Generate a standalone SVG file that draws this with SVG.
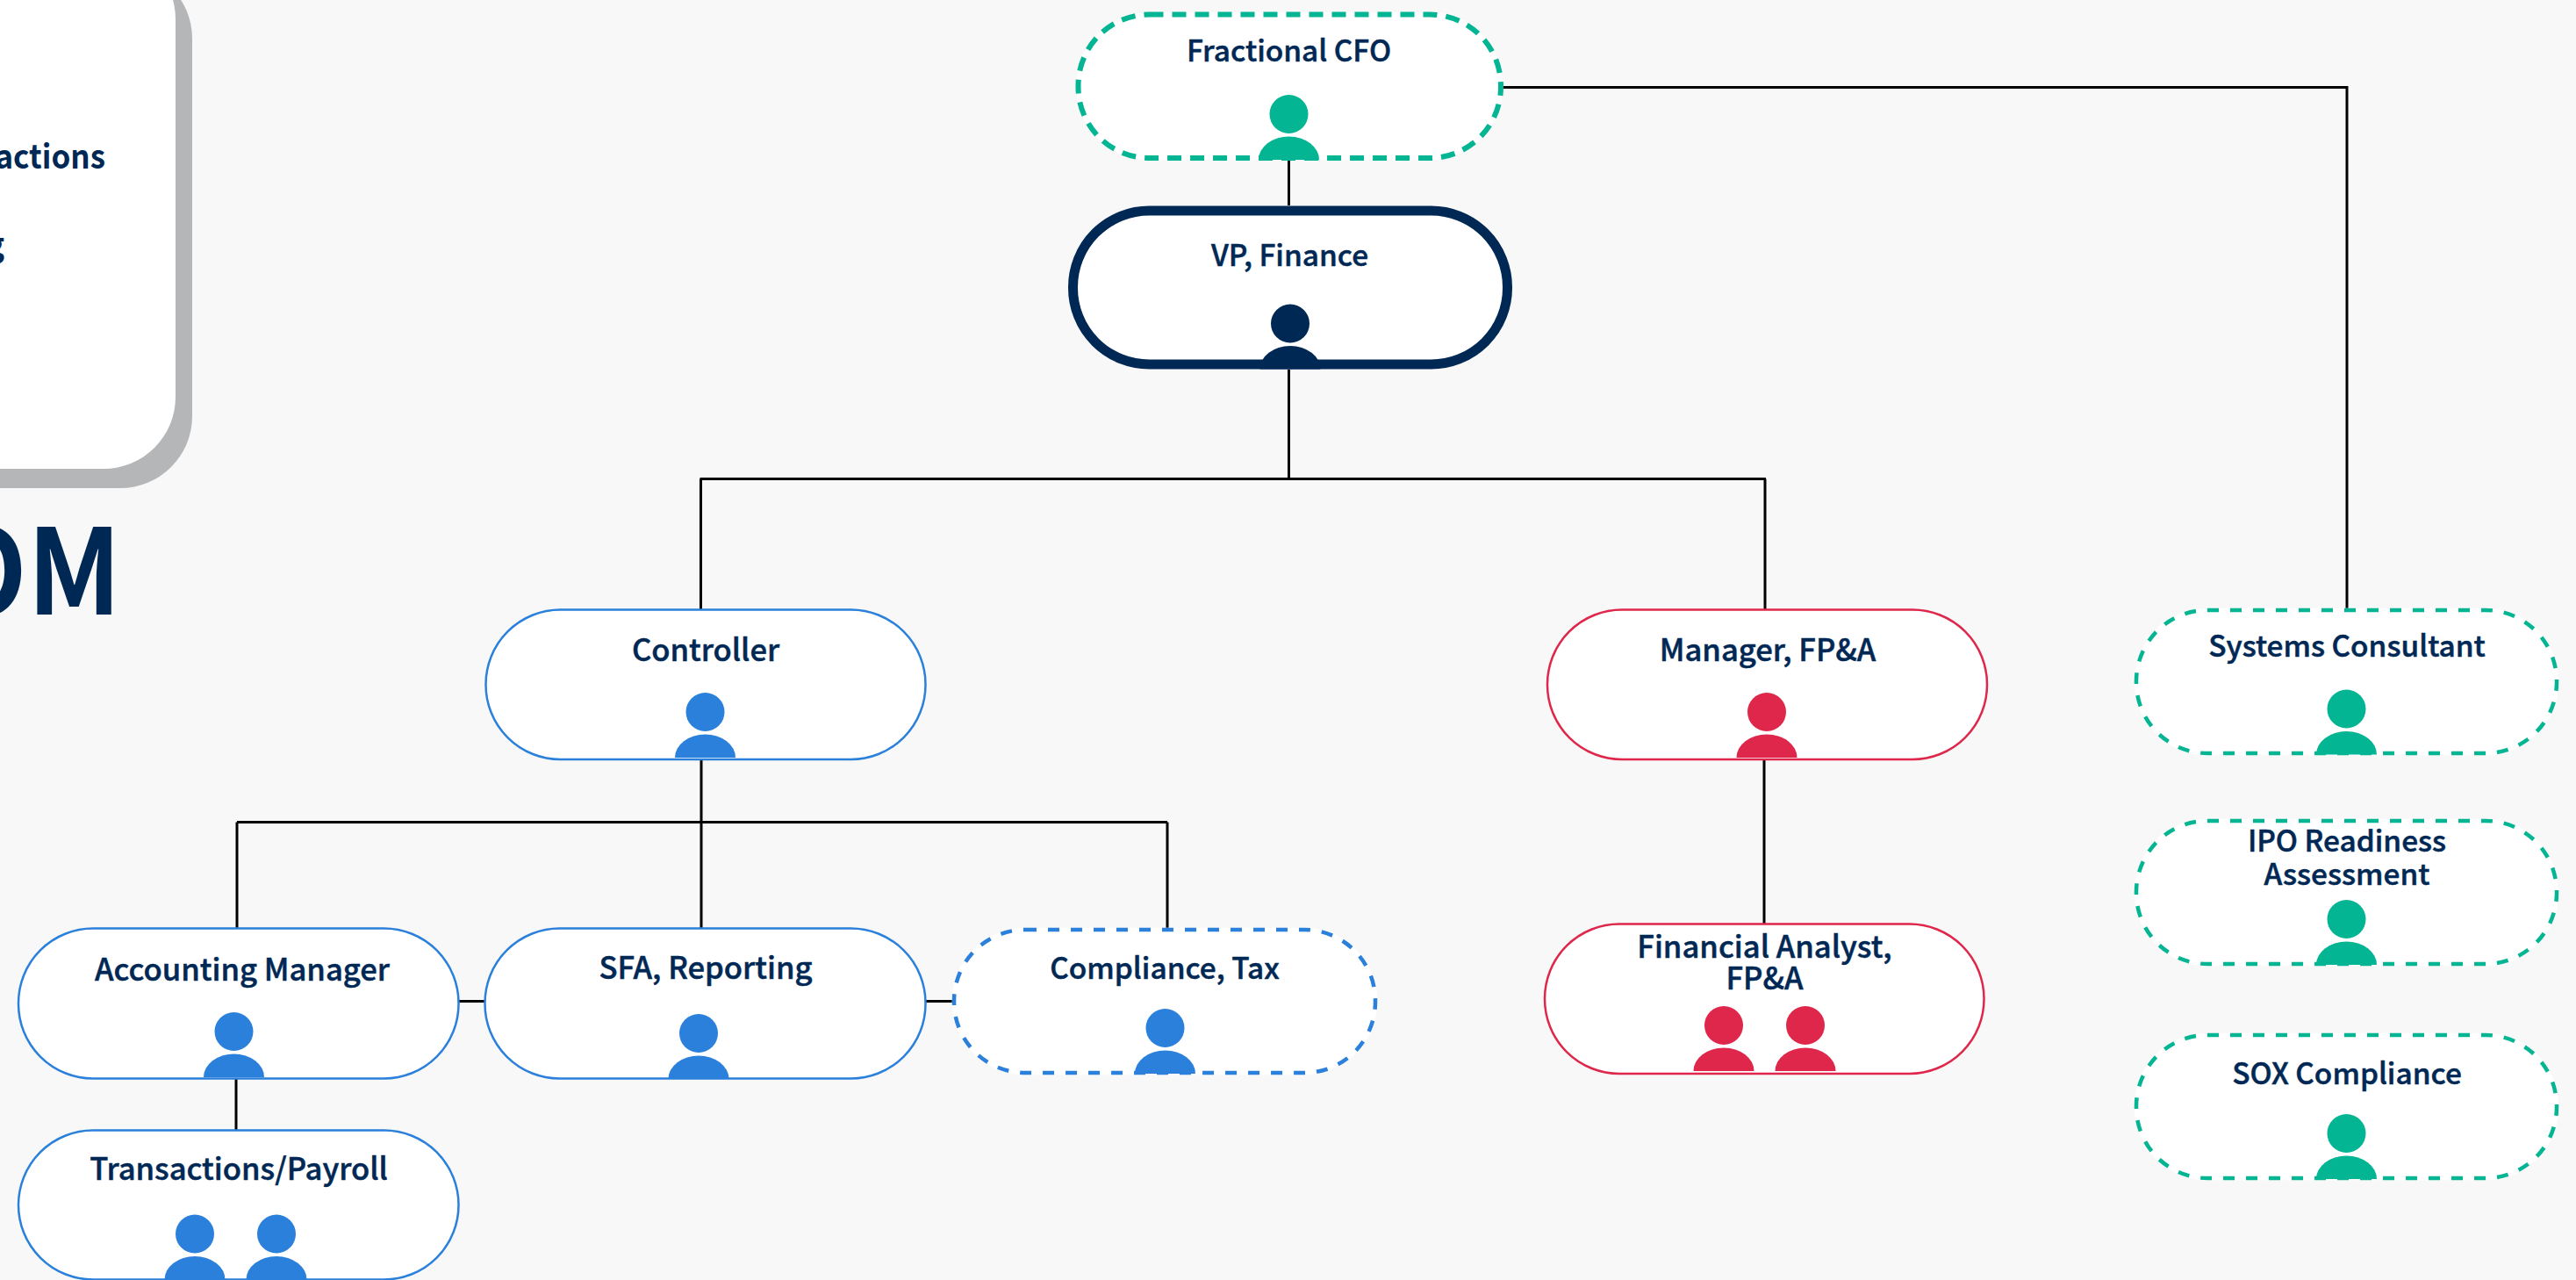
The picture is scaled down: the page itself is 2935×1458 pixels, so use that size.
<svg xmlns="http://www.w3.org/2000/svg" xmlns:xlink="http://www.w3.org/1999/xlink" width="2935" height="1458" viewBox="0 0 2935 1458">
<style>
text{font-family:"Noto Sans CJK SC","Noto Sans",sans-serif;font-weight:500;font-size:34.600px;fill:#002855;stroke:#002855;stroke-width:.5;text-anchor:middle}
.d{font-size:33.400px}
.panel-text{text-anchor:end;font-size:38px;font-weight:700;stroke:none}
.title{font-weight:700;font-size:135px;text-anchor:end;stroke:none}
.pill{fill:#fff;stroke-width:2.500}
.under{fill:#fff;stroke:#fff;stroke-width:4.500}
.dash{fill:none;stroke-width:4.500;stroke-dasharray:13 13}
.blue{stroke:#2a80db}.red{stroke:#de274a}.green{stroke:#04b593}
.cx{fill:none;stroke:#000;stroke-width:3}
</style>
<defs>
<g id="person"><circle r="22"/><path d="M-34.500 52A34.500 26.500 0 0 1 34.500 52Z"/></g>
</defs>
<rect width="2935" height="1458" fill="#f8f8f8"/>
<g id="panel">
<rect x="-481" y="-38" width="700" height="594" rx="82" fill="#b5b6b8"/>
<rect x="-500" y="-60" width="700" height="594" rx="82" fill="#fff"/>
<text class="panel-text" transform="translate(120 192) scale(.92 1)">actions</text>
<text class="panel-text" transform="translate(5 292) scale(.92 1)">g</text>
</g>
<text id="title" class="title" transform="translate(138 700) scale(.93 1)">OM</text>
<g id="connectors">
<path class="cx" d="M1468.500 182V234M1468.500 421V545.500M797.500 545.500H2012M798.500 545.500V694M2011 545.500V694M1712 99.500H2674V693M799 866V1057M270 936.500H1330M270 936.500V1057M1330 936.500V1059M269 1229V1287M523 1140.500H552M1055 1140.500H1085M2010 866V1052"/>
</g>
<g id="fractional-cfo" fill="#04b593">
<rect class="under" x="1228.500" y="16.500" width="481.500" height="163.500" rx="81"/>
<rect class="dash green" style="stroke-width:6;stroke-dasharray:16 10" x="1228.500" y="16.500" width="481.500" height="163.500" rx="81"/>
<text class="d" x="1468.500" y="70">Fractional CFO</text>
<use href="#person" x="1468.500" y="130"/>
</g>
<g id="vp-finance" fill="#002855">
<rect x="1222.500" y="240" width="495" height="175" rx="87" fill="#fff" stroke="#002855" stroke-width="11"/>
<text class="d" x="1469.500" y="302.500">VP, Finance</text>
<use href="#person" x="1470" y="368.500"/>
</g>
<g id="controller" fill="#2a80db">
<rect class="pill blue" x="553.500" y="694.500" width="501" height="170.500" rx="85"/>
<text x="804" y="753">Controller</text>
<use href="#person" x="803.500" y="811"/>
</g>
<g id="manager-fpa" fill="#de274a">
<rect class="pill red" x="1763" y="694.500" width="501" height="170.500" rx="85"/>
<text x="2014" y="752.500">Manager, FP&amp;A</text>
<use href="#person" x="2013" y="811"/>
</g>
<g id="accounting-manager" fill="#2a80db">
<rect class="pill blue" x="21" y="1057.500" width="501.500" height="171" rx="85"/>
<text x="276" y="1117">Accounting Manager</text>
<use href="#person" x="266.500" y="1175"/>
</g>
<g id="sfa-reporting" fill="#2a80db">
<rect class="pill blue" x="552.500" y="1057.500" width="502" height="171" rx="85"/>
<text x="804" y="1114.500">SFA, Reporting</text>
<use href="#person" x="796" y="1177"/>
</g>
<g id="compliance-tax" fill="#2a80db">
<rect class="under" x="1087" y="1059" width="480" height="163" rx="81"/>
<rect class="dash blue" x="1087" y="1059" width="480" height="163" rx="81"/>
<text class="d" x="1327" y="1114.500">Compliance, Tax</text>
<use href="#person" x="1327.500" y="1171"/>
</g>
<g id="transactions-payroll" fill="#2a80db">
<rect class="pill blue" x="21" y="1287.500" width="501.500" height="170" rx="85"/>
<text x="272" y="1343.500">Transactions/Payroll</text>
<use href="#person" x="222" y="1405.500"/>
<use href="#person" x="315" y="1405.500"/>
</g>
<g id="financial-analyst" fill="#de274a">
<rect class="pill red" x="1760" y="1052.500" width="500.500" height="170.500" rx="85"/>
<text x="2010.500" y="1090.500">Financial Analyst,</text>
<text x="2010.500" y="1127">FP&amp;A</text>
<use href="#person" x="1964" y="1168"/>
<use href="#person" x="2057" y="1168"/>
</g>
<g id="systems-consultant" fill="#04b593">
<rect class="under" x="2434" y="695" width="479" height="163" rx="81"/>
<rect class="dash green" x="2434" y="695" width="479" height="163" rx="81"/>
<text class="d" x="2674" y="747.500">Systems Consultant</text>
<use href="#person" x="2673.500" y="807.500"/>
</g>
<g id="ipo-readiness" fill="#04b593">
<rect class="under" x="2434" y="935" width="479" height="163" rx="81"/>
<rect class="dash green" x="2434" y="935" width="479" height="163" rx="81"/>
<text class="d" x="2674" y="970">IPO Readiness</text>
<text class="d" x="2674" y="1007.500">Assessment</text>
<use href="#person" x="2673.500" y="1047"/>
</g>
<g id="sox-compliance" fill="#04b593">
<rect class="under" x="2434" y="1179" width="479" height="163" rx="81"/>
<rect class="dash green" x="2434" y="1179" width="479" height="163" rx="81"/>
<text class="d" x="2674" y="1234.500">SOX Compliance</text>
<use href="#person" x="2673.500" y="1291"/>
</g>
</svg>
